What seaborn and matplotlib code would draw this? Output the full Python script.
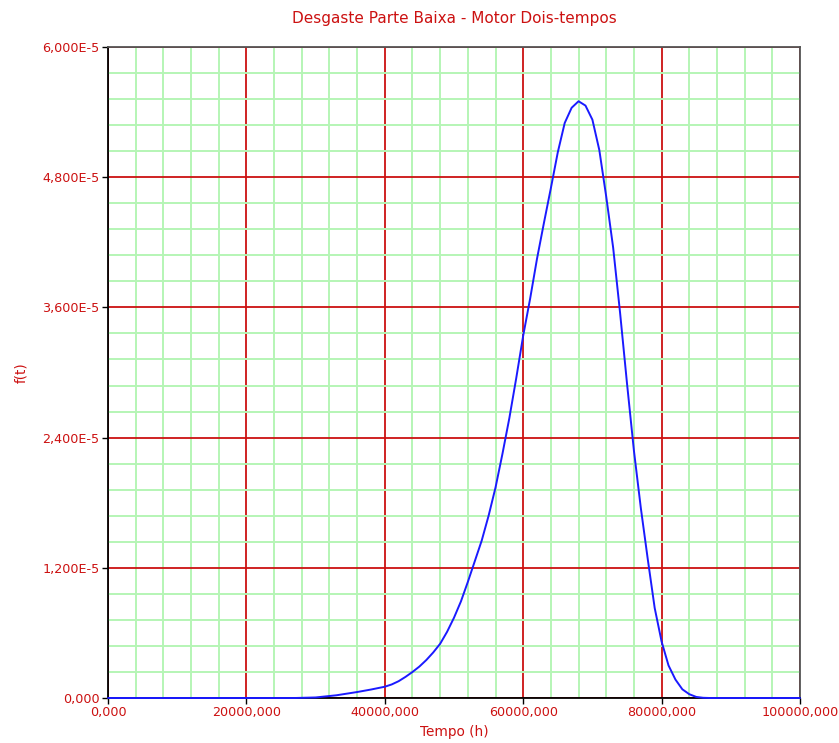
import numpy as np
import pandas as pd
import matplotlib
matplotlib.use('Agg')
import matplotlib.pyplot as plt
import seaborn as sns
from matplotlib.ticker import MultipleLocator, FuncFormatter

# tempo (h) e densidade f(t)
tempo = [0, 27000, 30000, 33000, 36000, 38000, 40000, 41000, 42000, 43000,
         44000, 45000, 46000, 47000, 48000, 49000, 50000, 51000, 52000, 53000,
         54000, 55000, 56000, 57000, 58000, 59000, 60000, 61000, 62000, 63000,
         64000, 65000, 66000, 67000, 68000, 69000, 70000, 71000, 72000, 73000,
         74000, 75000, 76000, 77000, 78000, 79000, 80000, 81000, 82000, 83000,
         84000, 85000, 86000, 87000, 100000]
ft_e6 = [0, 0, 0.05, 0.25, 0.55, 0.78, 1.04, 1.25, 1.55, 1.95,
         2.4, 2.9, 3.5, 4.2, 5.0, 6.1, 7.4, 8.9, 10.7, 12.6,
         14.5, 16.8, 19.4, 22.5, 25.8, 29.5, 33.4, 36.8, 40.5, 43.8,
         47.0, 50.3, 53.0, 54.4, 55.0, 54.6, 53.3, 50.5, 46.2, 41.5,
         35.5, 29.0, 22.8, 17.5, 12.8, 8.3, 5.2, 3.0, 1.7, 0.8,
         0.35, 0.1, 0.02, 0, 0]

df = pd.DataFrame({'Tempo (h)': tempo, 'f(t)': np.array(ft_e6) * 1e-6})

sns.set_style('white')
plt.rcParams['font.family'] = ['DejaVu Sans']
vermelho = '#cc1111'

fig = plt.figure(figsize=(8.39, 7.43), dpi=100)
ax = fig.add_axes([108/839, 45/743, 692/839, 651/743])

sns.lineplot(data=df, x='Tempo (h)', y='f(t)', ax=ax, color='#1a1aff',
             linewidth=1.4, zorder=3, clip_on=False)

ax.set_xlim(0, 100000)
ax.set_ylim(0, 6e-5)
ax.xaxis.set_major_locator(MultipleLocator(20000))
ax.xaxis.set_minor_locator(MultipleLocator(4000))
ax.yaxis.set_major_locator(MultipleLocator(1.2e-5))
ax.yaxis.set_minor_locator(MultipleLocator(2.4e-6))
ax.xaxis.set_major_formatter(FuncFormatter(lambda v, p: f'{v:.3f}'.replace('.', ',')))
ax.yaxis.set_major_formatter(FuncFormatter(
    lambda v, p: '0,000' if abs(v) < 1e-12 else f'{v*1e5:.3f}E-5'.replace('.', ',')))

ax.grid(which='minor', color='#b5f5b5', linewidth=1.4, zorder=0)
ax.grid(which='major', color='#cc1111', linewidth=1.3, zorder=1)
ax.set_axisbelow(True)

ax.tick_params(axis='both', which='major', direction='out', length=4, width=1,
               color='black', labelcolor=vermelho, labelsize=9.2, pad=2)
ax.tick_params(axis='both', which='minor', length=0)
ax.tick_params(axis='x', which='major', bottom=True)
ax.tick_params(axis='y', which='major', left=True)

for s in ['left', 'bottom']:
    ax.spines[s].set_color('black')
    ax.spines[s].set_linewidth(1.3)
for s in ['top', 'right']:
    ax.spines[s].set_color('#555555')
    ax.spines[s].set_linewidth(1.3)

ax.set_title('Desgaste Parte Baixa - Motor Dois-tempos', color=vermelho, fontsize=11, pad=17)
ax.set_xlabel('Tempo (h)', color=vermelho, fontsize=9.8, labelpad=4)
ax.set_ylabel('f(t)', color=vermelho, fontsize=9.8, labelpad=10)

fig.savefig('out.png', dpi=100)
